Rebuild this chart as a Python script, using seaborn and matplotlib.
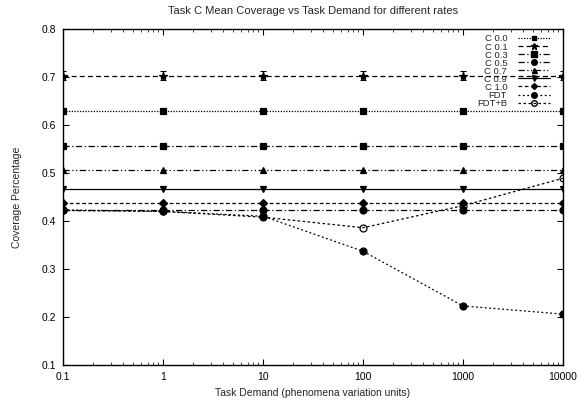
import numpy as np
import pandas as pd
import matplotlib
matplotlib.use("Agg")
import matplotlib.pyplot as plt
import seaborn as sns
from matplotlib.lines import Line2D
from matplotlib.ticker import LogLocator, FixedLocator, NullFormatter

demand = [0.1, 1, 10, 100, 1000, 10000]
labels = ["C 0.0", "C 0.1", "C 0.3", "C 0.5", "C 0.7", "C 0.9", "C 1.0", "FDT", "FDT+B"]
c00 = [0.630, 0.630, 0.630, 0.630, 0.630, 0.630]
c01 = [0.703, 0.703, 0.703, 0.703, 0.703, 0.703]
c03 = [0.556, 0.556, 0.556, 0.556, 0.556, 0.556]
c05 = [0.423, 0.423, 0.423, 0.423, 0.423, 0.423]
c07 = [0.506, 0.506, 0.506, 0.506, 0.506, 0.506]
c09 = [0.467, 0.467, 0.467, 0.467, 0.467, 0.467]
c10 = [0.437, 0.437, 0.437, 0.437, 0.437, 0.437]
fdt = [0.423, 0.420, 0.410, 0.337, 0.223, 0.206]
fdtb = [0.422, 0.420, 0.408, 0.386, 0.432, 0.489]
err01 = [0.010, 0.010, 0.010, 0.010, 0.010, 0.010]
err00 = [0.003, 0.003, 0.003, 0.003, 0.003, 0.003]

series = [c00, c01, c03, c05, c07, c09, c10, fdt, fdtb]
errs = [err00, err01, None, None, None, None, None, None, None]
markers = ["s", "*", "s", "o", "^", "v", "D", "o", "o"]
msizes = [4, 6, 5, 5, 4.5, 4.5, 3.8, 5, 5]
mfaces = ["k", "k", "k", "k", "k", "k", "k", "k", "none"]
styles = [(0, (1, 1.2)), (0, (4, 2.5)), (0, (5, 2, 1, 2)), (0, (5, 2, 1, 2)),
          (0, (5, 2, 1, 2, 1, 2)), "-", (0, (3, 2)), (0, (1.5, 2)), (0, (2, 2))]

sns.set_style("ticks")
plt.rcParams["font.family"] = ["Liberation Sans", "DejaVu Sans"]
plt.rcParams["font.size"] = 7.5

fig = plt.figure(figsize=(5.87, 4.03), dpi=100)
ax = fig.add_axes([63/587, 1-365/403, 500/587, 336/403])

handles = []
for lab, ys, er, mk, ms, mf, ls in zip(labels, series, errs, markers, msizes, mfaces, styles):
    df = pd.DataFrame({"x": demand, "y": ys})
    sns.lineplot(data=df, x="x", y="y", ax=ax, color="k", linewidth=0.9,
                 linestyle=ls, marker=mk, markersize=ms, markerfacecolor=mf,
                 markeredgecolor="k", markeredgewidth=0.9, legend=False)
    if er is not None:
        ax.errorbar(demand, ys, yerr=er, fmt="none", ecolor="k", elinewidth=0.8,
                    capsize=2.5, capthick=0.8)
    handles.append(Line2D([], [], color="k", lw=0.9, linestyle=ls, marker=mk,
                          markersize=ms * 0.8, markerfacecolor=mf, markeredgecolor="k",
                          label=lab))

ax.set_xscale("log")
ax.set_xlim(0.1, 10000)
ax.set_ylim(0.1, 0.8)
ax.xaxis.set_major_locator(FixedLocator(demand))
ax.set_xticklabels(["0.1", "1", "10", "100", "1000", "10000"])
ax.xaxis.set_minor_locator(LogLocator(base=10, subs=np.arange(2, 10)))
ax.xaxis.set_minor_formatter(NullFormatter())
ax.set_yticks(np.arange(0.1, 0.81, 0.1))
ax.set_yticklabels([f"{v:.1f}" for v in np.arange(0.1, 0.81, 0.1)])
ax.tick_params(which="major", direction="in", length=4, width=0.8, top=True, right=True,
               labelsize=7.5, pad=5, colors="k")
ax.tick_params(which="minor", direction="in", length=2, width=0.6, top=True, right=True)
for s in ax.spines.values():
    s.set_visible(True)
    s.set_linewidth(1.0)
    s.set_color("k")

ax.set_title("Task C Mean Coverage vs Task Demand for different rates", fontsize=8, pad=11)
ax.set_xlabel("Task Demand (phenomena variation units)", fontsize=7.5, labelpad=4)
ax.set_ylabel("Coverage Percentage", fontsize=7.5, labelpad=14)

leg = ax.legend(handles=handles, loc="upper right", markerfirst=False, frameon=False,
                fontsize=6.8, handlelength=3.4, labelspacing=-0.1, borderaxespad=0,
                handletextpad=1.1, bbox_to_anchor=(0.981, 0.995))

fig.savefig("out.png", dpi=100)
